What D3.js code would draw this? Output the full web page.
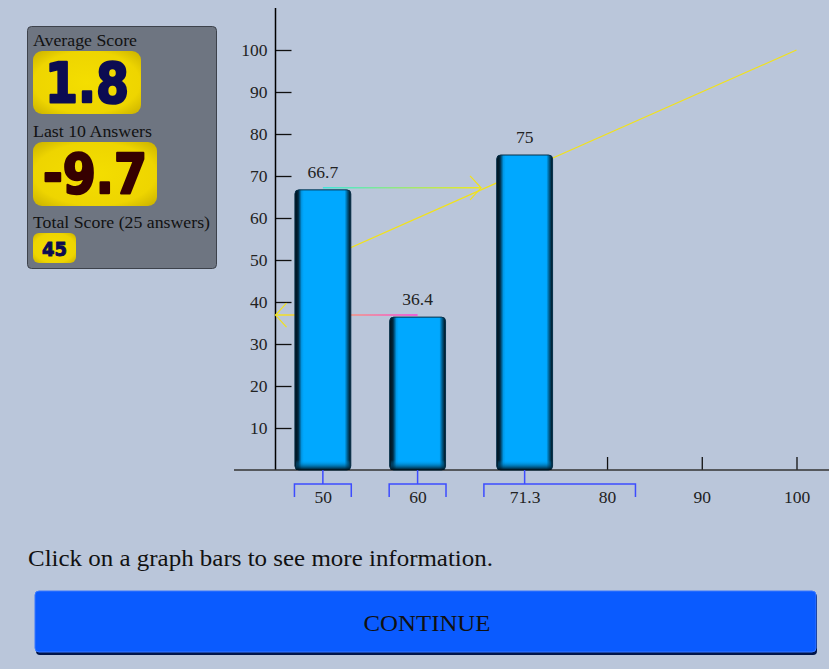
<!DOCTYPE html>
<html>
<head>
<meta charset="utf-8">
<script src="https://d3js.org/d3.v7.min.js"></script>
<style>
  html, body { margin: 0; padding: 0; background: #bac6da; }
  svg { display: block; }
</style>
</head>
<body>
<svg id="chart" width="829" height="669"></svg>
<script>
// ---- data ----
const binCenters = [50, 60, 71.3];
const binValues = [66.7, 36.4, 75];
const binRanges = [[47, 53], [57, 63], [67, 83]];
const xTickValues = [50, 60, 71.3, 80, 90, 100];
const yTickValues = [10, 20, 30, 40, 50, 60, 70, 80, 90, 100];
// arrows: drawn at value level from bin center toward the value
const arrowLevels = [66.7, 36.4];
const arrowFrom = [50, 60];
const arrowTo = [66.7, 36.4];
const arrowStartColors = ["#3fe6dc", "#ff3fd8"];
const diagonal = [[50, 50], [100, 100]];

const scoreLabels = ["Average Score", "Last 10 Answers", "Total Score (25 answers)"];
const scoreValues = ["1.8", "-9.7", "45"];
const scoreColors = ["#0c0c52", "#360000", "#0c0c52"];

const serif = "'Liberation Serif', 'DejaVu Serif', serif";
const heavy = "'DejaVu Sans', sans-serif";

const svg = d3.select("#chart");
const defs = svg.append("defs");

svg.append("rect").attr("width", 829).attr("height", 669).attr("fill", "#bac6da");

const x = d3.scaleLinear().domain([45, 100]).range([275.5, 796.5]);
const y = d3.scaleLinear().domain([0, 100]).range([470, 50]);

// gradients
const barGrad = defs.append("linearGradient").attr("id", "barSide")
  .attr("x1", "0%").attr("x2", "100%").attr("y1", "0%").attr("y2", "0%");
[["0%", "#000c14"], ["6%", "#00283f"], ["12%", "#0098e8"], ["16%", "#00a8ff"], ["89%", "#00a8ff"], ["94%", "#005a88"], ["100%", "#000c14"]]
  .forEach(s => barGrad.append("stop").attr("offset", s[0]).attr("stop-color", s[1]));
const barBottom = defs.append("linearGradient").attr("id", "barBottom")
  .attr("x1", "0%").attr("x2", "0%").attr("y1", "0%").attr("y2", "100%");
[["0%", "#00a8ff", 0], ["100%", "#000c14", 1]]
  .forEach(s => barBottom.append("stop").attr("offset", s[0]).attr("stop-color", s[1]).attr("stop-opacity", s[2]));

const yellowGrad = defs.append("radialGradient").attr("id", "yellowBox")
  .attr("cx", "50%").attr("cy", "50%").attr("r", "70%");
[["0%", "#f4de00"], ["70%", "#eed500"], ["100%", "#c9b000"]]
  .forEach(s => yellowGrad.append("stop").attr("offset", s[0]).attr("stop-color", s[1]));

// ---- score panel ----
svg.append("rect").attr("x", 27.5).attr("y", 26.5).attr("width", 189).attr("height", 242)
  .attr("rx", 4).attr("fill", "#6e7581").attr("stroke", "#3d424b").attr("stroke-width", 1);

const labelY = [46, 137, 228];
const labelWidth = [104, 119, 177];
const boxes = [[33, 51, 108, 63], [33, 142, 124, 64], [33, 233, 43, 30]];
const numSize = [56, 55, 20];
const numWidth = [84, 104, 25];
const numBase = [102, 193, 256];

scoreLabels.forEach((t, i) => {
  svg.append("text").attr("x", 33).attr("y", labelY[i])
    .attr("font-family", serif).attr("font-size", 17.5).attr("fill", "#111")
    .attr("textLength", labelWidth[i]).attr("lengthAdjust", "spacingAndGlyphs")
    .text(t);
  const b = boxes[i];
  svg.append("rect").attr("x", b[0]).attr("y", b[1]).attr("width", b[2]).attr("height", b[3])
    .attr("rx", i === 2 ? 6 : 9).attr("fill", "url(#yellowBox)");
  svg.append("text").attr("x", b[0] + b[2] / 2).attr("y", numBase[i])
    .attr("text-anchor", "middle").attr("font-family", heavy).attr("font-weight", "bold")
    .attr("font-size", numSize[i]).attr("fill", scoreColors[i])
    .attr("stroke", scoreColors[i]).attr("stroke-width", i === 2 ? 1 : 2.5).attr("stroke-linejoin", "round")
    .attr("textLength", numWidth[i]).attr("lengthAdjust", "spacingAndGlyphs")
    .text(scoreValues[i]);
});

// ---- axes ----
const yAxis = d3.axisLeft(y).tickValues(yTickValues).tickSizeInner(-16).tickSizeOuter(0).tickPadding(8);
const gy = svg.append("g").attr("transform", `translate(${x(45)},0)`).call(yAxis);
gy.select(".domain").remove();
gy.selectAll(".tick line").attr("stroke", "#111").attr("stroke-width", 1.3);
gy.selectAll(".tick text").attr("font-family", serif).attr("font-size", 17.5).attr("fill", "#222");

svg.append("line").attr("x1", x(45)).attr("x2", x(45)).attr("y1", 8).attr("y2", y(0))
  .attr("stroke", "#000").attr("stroke-width", 1.5);

const xAxis = d3.axisBottom(x).tickValues(xTickValues).tickFormat(d => d)
  .tickSizeInner(-13).tickSizeOuter(0).tickPadding(21);
const gx = svg.append("g").attr("transform", `translate(0,${y(0)})`).call(xAxis);
gx.select(".domain").remove();
gx.selectAll(".tick line").attr("stroke", "#111").attr("stroke-width", 1.3);
gx.selectAll(".tick text").attr("font-family", serif).attr("font-size", 17.5).attr("fill", "#222");

svg.append("line").attr("x1", 234).attr("x2", 829).attr("y1", y(0)).attr("y2", y(0))
  .attr("stroke", "#333").attr("stroke-width", 1.3);

// ---- diagonal and arrows (behind bars) ----
svg.append("path").datum(diagonal)
  .attr("d", d3.line().x(d => x(d[0])).y(d => y(d[1])))
  .attr("fill", "none").attr("stroke", "#f2e21a").attr("stroke-width", 1.2);

arrowLevels.forEach((lv, i) => {
  const dom = x.domain();
  const x0 = x(arrowFrom[i]);
  const x1 = x(Math.max(dom[0], Math.min(dom[1], arrowTo[i])));
  const yy = y(lv) - 2;
  const g = defs.append("linearGradient").attr("id", "arrow" + i)
    .attr("gradientUnits", "userSpaceOnUse")
    .attr("x1", x0).attr("x2", x1).attr("y1", yy).attr("y2", yy);
  g.append("stop").attr("offset", "0%").attr("stop-color", arrowStartColors[i]);
  g.append("stop").attr("offset", "100%").attr("stop-color", "#f2e81a");
  svg.append("line").attr("x1", x0).attr("x2", x1).attr("y1", yy).attr("y2", yy)
    .attr("stroke", `url(#arrow${i})`).attr("stroke-width", 1.5);
  const dir = x1 > x0 ? 1 : -1;
  svg.append("path")
    .attr("d", `M${x1 - dir * 11},${yy - 12} L${x1},${yy} L${x1 - dir * 11},${yy + 12}`)
    .attr("fill", "none").attr("stroke", "#f2e21a").attr("stroke-width", 1.2);
});

// ---- bars ----
const half = 2.95;
const bars = svg.append("g").selectAll("g").data(binCenters).join("g");
bars.append("rect")
  .attr("x", d => x(d - half)).attr("width", d => x(d + half) - x(d - half))
  .attr("y", (d, i) => y(binValues[i])).attr("height", (d, i) => y(0) - y(binValues[i]))
  .attr("rx", 4).attr("fill", "url(#barSide)").attr("stroke", "#06304a").attr("stroke-width", 1);
bars.append("rect")
  .attr("x", d => x(d - half) + 1).attr("width", d => x(d + half) - x(d - half) - 2)
  .attr("y", y(0) - 10).attr("height", 10)
  .attr("fill", "url(#barBottom)");
bars.append("text")
  .attr("x", d => x(d)).attr("y", (d, i) => y(binValues[i]) - 12)
  .attr("text-anchor", "middle").attr("font-family", serif).attr("font-size", 17.5).attr("fill", "#222")
  .text((d, i) => binValues[i]);

// ---- bin brackets ----
svg.append("g").selectAll("path").data(binRanges).join("path")
  .attr("d", (r, i) => `M${x(r[0])},497 V484 H${x(r[1])} V497 M${x(binCenters[i])},${y(0)} V484`)
  .attr("fill", "none").attr("stroke", "#3d4cff").attr("stroke-width", 1.5);

// ---- footer ----
svg.append("text").attr("x", 28).attr("y", 566)
  .attr("font-family", serif).attr("font-size", 23).attr("fill", "#111")
  .attr("textLength", 465).attr("lengthAdjust", "spacingAndGlyphs")
  .text("Click on a graph bars to see more information.");

svg.append("rect").attr("x", 36).attr("y", 593).attr("width", 781).attr("height", 62)
  .attr("rx", 4).attr("fill", "#00154a");
svg.append("rect").attr("x", 35).attr("y", 591).attr("width", 781).attr("height", 61)
  .attr("rx", 4).attr("fill", "#0a5bff").attr("stroke", "#3a78ff").attr("stroke-width", 1);
svg.append("text").attr("x", 427).attr("y", 631)
  .attr("text-anchor", "middle").attr("font-family", serif).attr("font-size", 24).attr("fill", "#111")
  .attr("textLength", 127).attr("lengthAdjust", "spacingAndGlyphs")
  .text("CONTINUE");
</script>
</body>
</html>
